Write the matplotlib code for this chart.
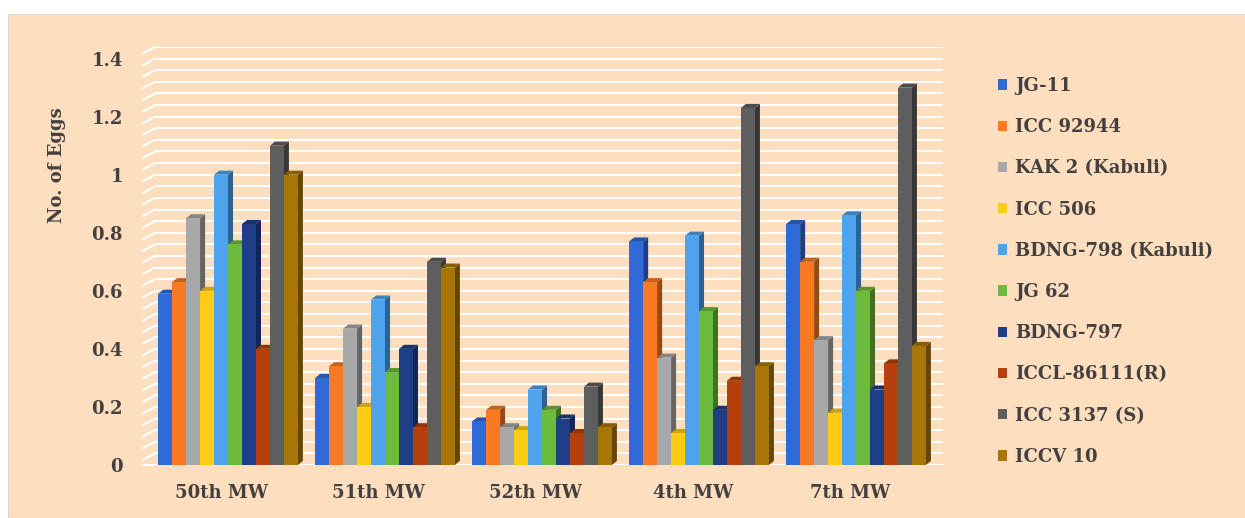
import numpy as np
import matplotlib.pyplot as plt
from matplotlib.patches import Rectangle
from matplotlib.colors import to_rgb


weeks = ['50th MW', '51th MW', '52th MW', '4th MW', '7th MW']
varieties = ['JG-11', 'ICC 92944', 'KAK 2 (Kabuli)', 'ICC 506', 'BDNG-798 (Kabuli)',
             'JG 62', 'BDNG-797', 'ICCL-86111(R)', 'ICC 3137 (S)', 'ICCV 10']

jg11 = [0.59, 0.30, 0.15, 0.77, 0.83]
icc92944 = [0.63, 0.34, 0.19, 0.63, 0.70]
kak2 = [0.85, 0.47, 0.13, 0.37, 0.43]
icc506 = [0.60, 0.20, 0.12, 0.11, 0.18]
bdng798 = [1.00, 0.57, 0.26, 0.79, 0.86]
jg62 = [0.76, 0.32, 0.19, 0.53, 0.60]
bdng797 = [0.83, 0.40, 0.16, 0.19, 0.26]
iccl86111 = [0.40, 0.13, 0.11, 0.29, 0.35]
icc3137 = [1.10, 0.70, 0.27, 1.23, 1.30]
iccv10 = [1.00, 0.68, 0.13, 0.34, 0.41]

series = [jg11, icc92944, kak2, icc506, bdng798, jg62, bdng797, iccl86111, icc3137, iccv10]
colors = ['#3169D6', '#F97A23', '#A8A8A8', '#FFCC14', '#4EA3EC',
          '#6DBB3D', '#1E3F88', '#B5400E', '#5E5E5E', '#A87508']

bg = '#FDDEBE'
txt = '#454040'

plt.rcParams['font.family'] = ['DejaVu Serif']
plt.rcParams['font.weight'] = 'bold'

fig = plt.figure(figsize=(12.45, 5.18), dpi=100)
fig.patch.set_facecolor('white')
fig.patches.append(Rectangle((8 / 1245, 0), 1 - 8 / 1245, 1 - 14 / 518,
                             transform=fig.transFigure, facecolor=bg,
                             edgecolor='#d9d9d9', linewidth=0.8, zorder=-10))

ax = fig.add_axes([155 / 1245, 1 - 465 / 518, (943 - 155) / 1245, (465 - 47) / 518])
ax.set_facecolor('none')

x = np.arange(len(weeks))
n = len(series)
bw = 0.89 / n
dx = 0.032
dy = 0.014


def shade(c, f):
    r, g, b = to_rgb(c)
    return (r * f, g * f, b * f)


# 3D side and top faces first, then the fronts on top
for i, (vals, c) in enumerate(zip(series, colors)):
    xs = x - 0.445 + i * bw
    for xl, h in zip(xs, vals):
        xr = xl + bw
        ax.fill([xr, xr + dx, xr + dx, xr], [0, dy, h + dy, h],
                color=shade(c, 0.6), lw=0, zorder=2)
        ax.fill([xl, xl + dx, xr + dx, xr], [h, h + dy, h + dy, h],
                color=shade(c, 0.8), lw=0, zorder=2)

for i, (vals, c, lab) in enumerate(zip(series, colors, varieties)):
    xs = x - 0.445 + i * bw
    ax.bar(xs, vals, width=bw, align='edge', color=c, label=lab, zorder=3, linewidth=0)

ax.set_xlim(-0.465, 4.554)
ax.set_ylim(0, 1.44)

# back wall gridlines with small side wall stubs
for g in np.arange(0, 1.441, 0.04):
    ax.axhline(g, color='white', lw=1.5, zorder=1)
    if g > 0:
        ax.plot([-0.465 - 12 / 157, -0.465], [g - 0.022, g], color='white', lw=1.5,
                clip_on=False, zorder=1)
ax.plot([-0.465 - 12 / 157, -0.465], [0, 0], color='white', lw=1.5, clip_on=False, zorder=1)

for s in ax.spines.values():
    s.set_visible(False)

ax.set_xticks(x - 0.04)
ax.set_xticklabels(weeks, fontsize=13, fontweight='bold', color=txt)
ax.set_yticks([0, 0.2, 0.4, 0.6, 0.8, 1.0, 1.2, 1.4])
ax.set_yticklabels(['0', '0.2', '0.4', '0.6', '0.8', '1', '1.2', '1.4'],
                   fontsize=13, fontweight='bold', color=txt)
ax.tick_params(axis='both', length=0)
ax.tick_params(axis='x', pad=14)
ax.tick_params(axis='y', pad=23)

fig.text(57 / 1245, 1 - 165 / 518, 'No. of Eggs', rotation=90, ha='center', va='center',
         fontsize=13, fontweight='bold', color=txt)

leg = ax.legend(loc='upper left', bbox_to_anchor=(998 / 1245, 1 - 77 / 518),
                bbox_transform=fig.transFigure, frameon=False, fontsize=13,
                handlelength=0.5, handleheight=0.5, handletextpad=0.45,
                labelspacing=1.285, borderpad=0, borderaxespad=0)
for t in leg.get_texts():
    t.set_color(txt)
    t.set_fontweight('bold')

fig.savefig('out.png', dpi=100, facecolor=fig.get_facecolor())
